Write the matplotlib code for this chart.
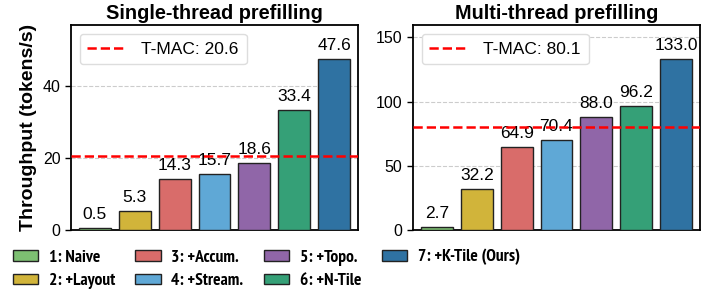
import matplotlib
matplotlib.use("Agg")
import matplotlib.pyplot as plt
from matplotlib import font_manager as fm
import numpy as np

plt.rcParams['font.family'] = ['Liberation Sans', 'DejaVu Sans']

labels = ['1: Naive', '2: +Layout', '3: +Accum.', '4: +Stream.', '5: +Topo.', '6: +N-Tile', '7: +K-Tile (Ours)']
colors = ['#7dbf72', '#d1b43a', '#d96c6a', '#5fa8d6', '#9066a8', '#35a077', '#2f72a2']
single = [0.5, 5.3, 14.3, 15.7, 18.6, 33.4, 47.6]
multi = [2.7, 32.2, 64.9, 70.4, 88.0, 96.2, 133.0]
tmac_single = 20.6
tmac_multi = 80.1

# narrow bold font for the bottom legend, if one is installed
bold_fonts = set(f.name for f in fm.fontManager.ttflist
                 if (f.weight if isinstance(f.weight, int) else 400) >= 600 or f.weight == 'bold')
narrow = 'Liberation Sans'
for cand in ['Liberation Sans Narrow', 'Arial Narrow', 'Archivo Narrow', 'PT Sans Narrow',
             'Roboto Condensed', 'Asap Condensed']:
    if cand in bold_fonts:
        narrow = cand
        break

fig = plt.figure(figsize=(7.18, 2.92), dpi=100)
ax1 = fig.add_axes([71/718, 1-230/292, 287/718, 205/292])
ax2 = fig.add_axes([413/718, 1-230/292, 287/718, 205/292])

x = np.arange(len(labels))
for ax, vals, tmac, title, yt in [(ax1, single, tmac_single, 'Single-thread prefilling', [0, 20, 40]),
                                  (ax2, multi, tmac_multi, 'Multi-thread prefilling', [0, 50, 100, 150])]:
    bars = ax.bar(x, vals, width=0.8, color=colors, edgecolor='#222222', linewidth=1.0, zorder=3)
    for b, v in zip(bars, vals):
        ax.text(b.get_x() + b.get_width()/2, v + max(vals)*0.035, '{:.1f}'.format(v),
                ha='center', va='bottom', fontsize=12.5, zorder=4)
    ax.axhline(tmac, color='red', ls='--', lw=1.8, zorder=5, label='T-MAC: {:.1f}'.format(tmac))
    ax.set_ylim(0, max(vals)*1.2)
    ax.set_xlim(-0.6, len(vals) - 0.4)
    ax.set_yticks(yt)
    ax.set_xticks([])
    ax.tick_params(axis='y', labelsize=11.5, length=4, width=1)
    ax.yaxis.grid(True, ls='--', color='#cccccc', lw=0.8, zorder=0)
    ax.set_axisbelow(True)
    for s in ax.spines.values():
        s.set_linewidth(1.3)
    ax.set_title(title, fontsize=14.3, fontweight='bold', pad=4)
    ax.legend(loc='upper left', fontsize=12.5, handlelength=2.2, borderpad=0.45, framealpha=1,
              edgecolor='#dddddd', fancybox=True, handletextpad=0.9)

ax1.set_ylabel('Throughput (tokens/s)', fontsize=14, fontweight='bold')

handles = [plt.Rectangle((0, 0), 1, 1, facecolor=c, edgecolor='#222222', lw=1.0) for c in colors]
fig.legend(handles, labels, loc='lower left', bbox_to_anchor=(-0.004, -0.045), ncol=4, frameon=False,
           prop={'family': narrow, 'weight': 'bold', 'size': 12.6},
           handlelength=1.45, handleheight=0.55, columnspacing=1.17, labelspacing=0.45, handletextpad=0.6)

fig.savefig('out.png', dpi=100)
